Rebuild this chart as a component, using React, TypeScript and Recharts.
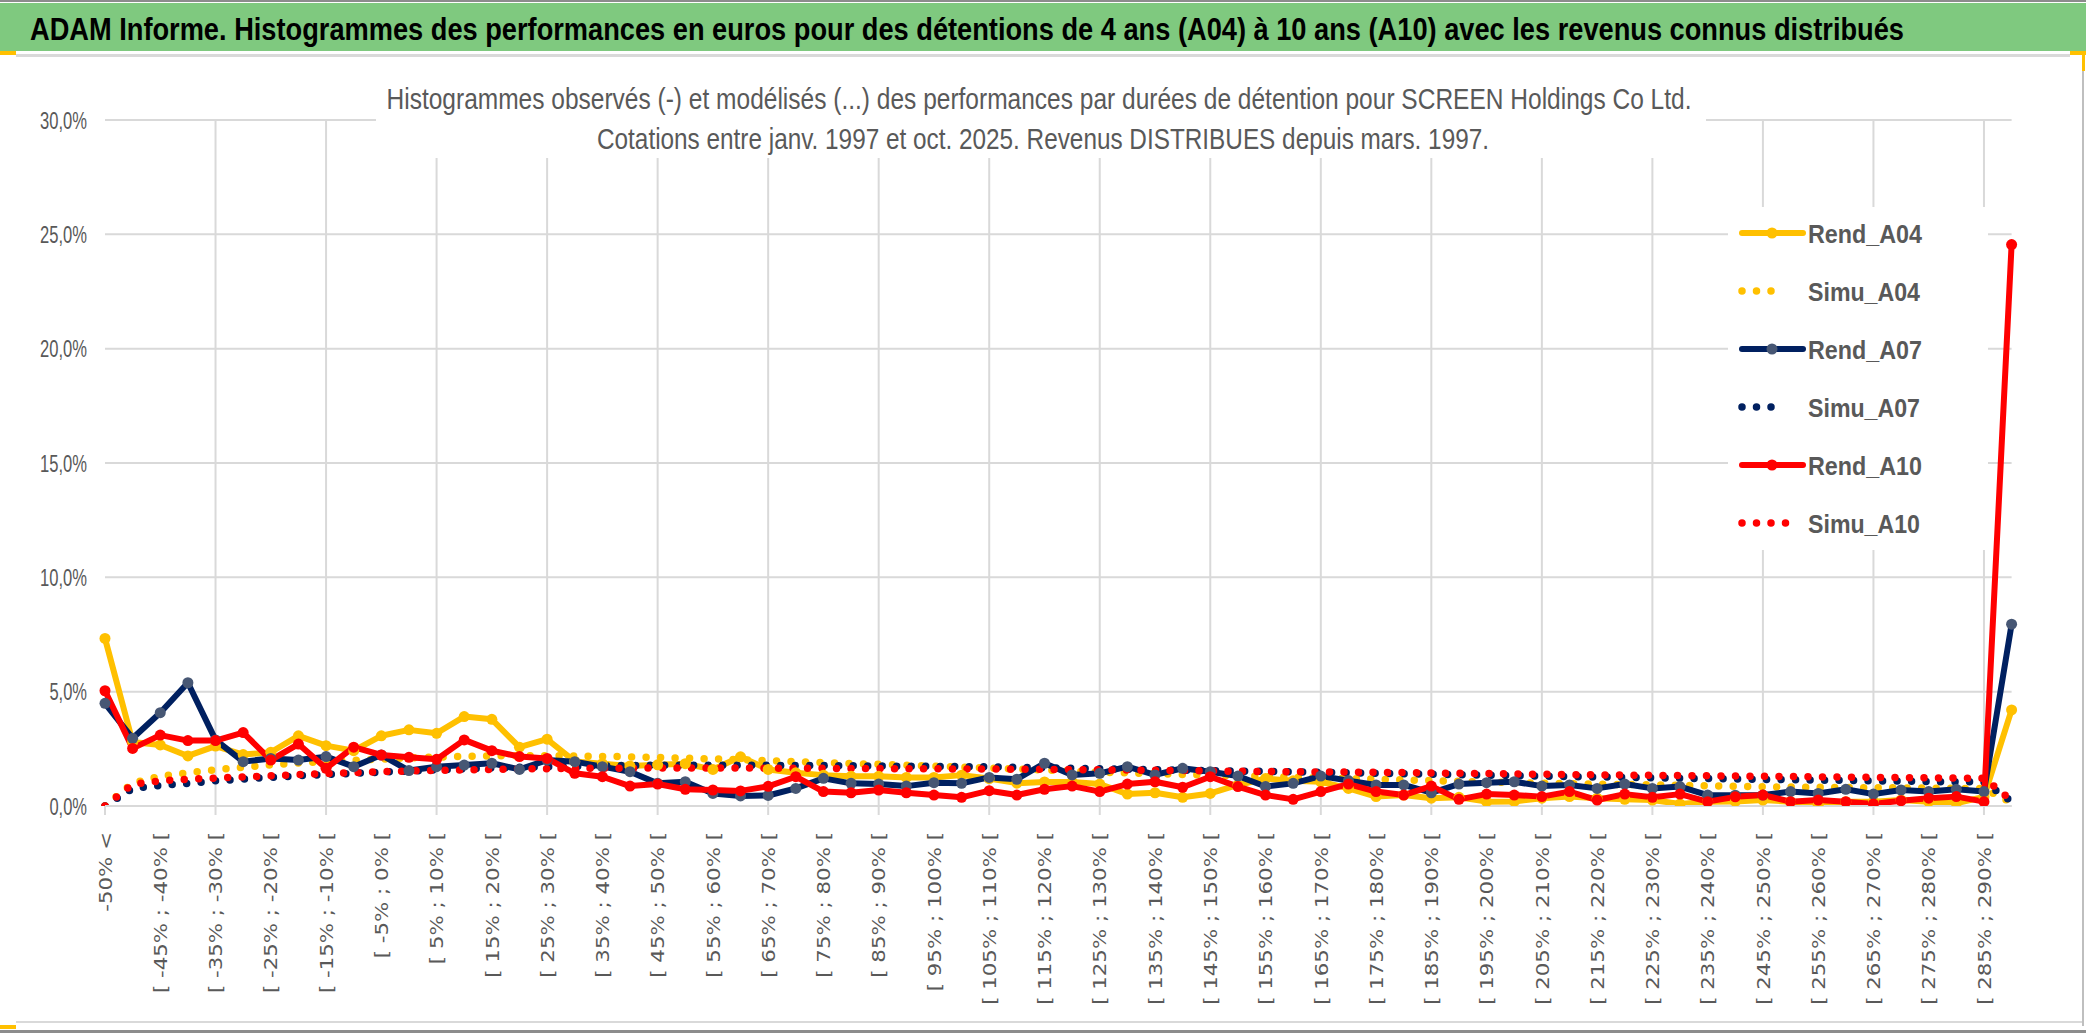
import React from 'react';
import { LineChart, Line, XAxis, YAxis, CartesianGrid } from 'recharts';

const categories = [
  '-50% <', '[ -50% ; -45% [', '[ -45% ; -40% [', '[ -40% ; -35% [', '[ -35% ; -30% [', '[ -30% ; -25% [',
  '[ -25% ; -20% [', '[ -20% ; -15% [', '[ -15% ; -10% [', '[ -10% ; -5% [', '[ -5% ; 0% [', '[ 0% ; 5% [',
  '[ 5% ; 10% [', '[ 10% ; 15% [', '[ 15% ; 20% [', '[ 20% ; 25% [', '[ 25% ; 30% [', '[ 30% ; 35% [',
  '[ 35% ; 40% [', '[ 40% ; 45% [', '[ 45% ; 50% [', '[ 50% ; 55% [', '[ 55% ; 60% [', '[ 60% ; 65% [',
  '[ 65% ; 70% [', '[ 70% ; 75% [', '[ 75% ; 80% [', '[ 80% ; 85% [', '[ 85% ; 90% [', '[ 90% ; 95% [',
  '[ 95% ; 100% [', '[ 100% ; 105% [', '[ 105% ; 110% [', '[ 110% ; 115% [', '[ 115% ; 120% [', '[ 120% ; 125% [',
  '[ 125% ; 130% [', '[ 130% ; 135% [', '[ 135% ; 140% [', '[ 140% ; 145% [', '[ 145% ; 150% [', '[ 150% ; 155% [',
  '[ 155% ; 160% [', '[ 160% ; 165% [', '[ 165% ; 170% [', '[ 170% ; 175% [', '[ 175% ; 180% [', '[ 180% ; 185% [',
  '[ 185% ; 190% [', '[ 190% ; 195% [', '[ 195% ; 200% [', '[ 200% ; 205% [', '[ 205% ; 210% [', '[ 210% ; 215% [',
  '[ 215% ; 220% [', '[ 220% ; 225% [', '[ 225% ; 230% [', '[ 230% ; 235% [', '[ 235% ; 240% [', '[ 240% ; 245% [',
  '[ 245% ; 250% [', '[ 250% ; 255% [', '[ 255% ; 260% [', '[ 260% ; 265% [', '[ 265% ; 270% [', '[ 270% ; 275% [',
  '[ 275% ; 280% [', '[ 280% ; 285% [', '[ 285% ; 290% [', '> 290%',
];

const rendA04 = [
  7.33, 2.8, 2.67, 2.19, 2.62, 2.25, 2.35, 3.07, 2.64, 2.42, 3.07, 3.33,
  3.18, 3.91, 3.79, 2.57, 2.92, 1.95, 1.85, 1.75, 1.8, 1.85, 1.6, 2.15,
  1.6, 1.45, 1.35, 1.3, 1.3, 1.25, 1.25, 1.35, 1.2, 1.0, 1.05, 1.05,
  0.96, 0.52, 0.58, 0.38, 0.55, 0.92, 1.2, 1.1, 1.06, 0.77, 0.41, 0.48,
  0.34, 0.38, 0.19, 0.2, 0.34, 0.41, 0.34, 0.29, 0.26, 0.09, 0.19, 0.2,
  0.26, 0.19, 0.04, 0.19, 0.19, 0.26, 0.19, 0.12, 0.4, 4.2,
];

const simuA04 = [
  0.0, 1.0, 1.3, 1.45, 1.58, 1.7, 1.8, 1.88, 1.95, 2.0, 2.05, 2.1,
  2.14, 2.17, 2.19, 2.2, 2.2, 2.19, 2.17, 2.15, 2.12, 2.09, 2.06, 2.02,
  1.98, 1.94, 1.9, 1.86, 1.82, 1.78, 1.74, 1.7, 1.66, 1.62, 1.58, 1.52,
  1.48, 1.45, 1.42, 1.38, 1.35, 1.32, 1.29, 1.26, 1.23, 1.2, 1.17, 1.14,
  1.11, 1.08, 1.05, 1.02, 1.0, 0.98, 0.96, 0.94, 0.92, 0.9, 0.88, 0.86,
  0.84, 0.83, 0.82, 0.81, 0.8, 0.79, 0.78, 0.77, 0.76, 0.15,
];

const rendA07 = [
  4.49, 2.96, 4.08, 5.39, 2.89, 1.94, 2.08, 2.01, 2.16, 1.72, 2.23, 1.55,
  1.72, 1.79, 1.87, 1.6, 2.01, 1.94, 1.72, 1.5, 0.99, 1.06, 0.55, 0.44,
  0.46, 0.77, 1.21, 0.99, 0.96, 0.87, 1.02, 0.99, 1.25, 1.17, 1.87, 1.36,
  1.43, 1.72, 1.36, 1.65, 1.5, 1.31, 0.85, 0.99, 1.31, 1.11, 0.92, 0.92,
  0.58, 0.96, 1.02, 1.06, 0.87, 0.92, 0.77, 0.96, 0.77, 0.85, 0.48, 0.47,
  0.48, 0.63, 0.55, 0.73, 0.52, 0.7, 0.63, 0.73, 0.63, 7.95,
];

const simuA07 = [
  0.0, 0.77, 0.9, 0.99, 1.1, 1.18, 1.25, 1.32, 1.38, 1.43, 1.48, 1.53,
  1.58, 1.62, 1.66, 1.69, 1.72, 1.74, 1.76, 1.77, 1.78, 1.78, 1.78, 1.78,
  1.78, 1.77, 1.77, 1.76, 1.75, 1.74, 1.73, 1.72, 1.71, 1.69, 1.67, 1.65,
  1.63, 1.61, 1.59, 1.57, 1.55, 1.53, 1.51, 1.49, 1.47, 1.45, 1.43, 1.41,
  1.39, 1.37, 1.35, 1.33, 1.31, 1.29, 1.27, 1.25, 1.23, 1.21, 1.2, 1.18,
  1.16, 1.15, 1.13, 1.12, 1.1, 1.09, 1.07, 1.06, 1.05, 0.2,
];

const rendA10 = [
  5.04, 2.52, 3.1, 2.86, 2.86, 3.21, 2.01, 2.71, 1.65, 2.57, 2.23, 2.13,
  2.04, 2.89, 2.42, 2.16, 2.08, 1.43, 1.28, 0.87, 0.96, 0.73, 0.7, 0.66,
  0.86, 1.28, 0.63, 0.58, 0.7, 0.58, 0.48, 0.38, 0.67, 0.48, 0.73, 0.87,
  0.63, 0.96, 1.06, 0.82, 1.28, 0.85, 0.48, 0.29, 0.63, 0.96, 0.63, 0.48,
  0.87, 0.29, 0.52, 0.48, 0.41, 0.63, 0.26, 0.52, 0.38, 0.52, 0.19, 0.4,
  0.48, 0.19, 0.26, 0.19, 0.09, 0.23, 0.34, 0.41, 0.19, 24.55,
];

const simuA10 = [
  0.0, 0.95, 1.1, 1.17, 1.22, 1.27, 1.32, 1.37, 1.42, 1.46, 1.5, 1.53,
  1.56, 1.58, 1.6, 1.62, 1.63, 1.64, 1.65, 1.65, 1.66, 1.66, 1.66, 1.66,
  1.65, 1.65, 1.65, 1.64, 1.64, 1.63, 1.63, 1.62, 1.62, 1.61, 1.6, 1.59,
  1.58, 1.57, 1.56, 1.55, 1.53, 1.52, 1.51, 1.5, 1.49, 1.48, 1.47, 1.46,
  1.44, 1.43, 1.42, 1.4, 1.39, 1.37, 1.36, 1.35, 1.34, 1.33, 1.32, 1.31,
  1.3, 1.29, 1.27, 1.26, 1.25, 1.24, 1.23, 1.22, 1.21, 0.25,
];

const yTicks = [0, 5, 10, 15, 20, 25, 30];
const yTickLabels = ['0,0%', '5,0%', '10,0%', '15,0%', '20,0%', '25,0%', '30,0%'];

const seriesNames = ['Rend_A04', 'Simu_A04', 'Rend_A07', 'Simu_A07', 'Rend_A10', 'Simu_A10'];

const TITLE = 'ADAM Informe. Histogrammes des performances en euros pour des détentions de 4 ans (A04) à 10 ans (A10) avec les revenus connus distribués';
const SUB1 = 'Histogrammes observés (-) et modélisés (...) des performances par durées de détention pour SCREEN Holdings Co Ltd.';
const SUB2 = 'Cotations entre janv. 1997 et oct. 2025. Revenus DISTRIBUES depuis mars. 1997.';

const data = categories.map((cat, i) => ({
  cat,
  rendA04: rendA04[i],
  simuA04: simuA04[i],
  rendA07: rendA07[i],
  simuA07: simuA07[i],
  rendA10: rendA10[i],
  simuA10: simuA10[i],
}));

const W = 2086;
const H = 1033;
const MARGIN = { top: 120, right: 74.4, bottom: 0, left: 0 };
const YAXIS_W = 105;
const XAXIS_H = 227;
const PLOT_BOTTOM = H - MARGIN.bottom - XAXIS_H;
const PLOT_LEFT = MARGIN.left + YAXIS_W;
const PLOT_W = W - MARGIN.right - PLOT_LEFT;

const YELLOW = '#FFC000';
const NAVY = '#002060';
const NAVY_MARK = '#475774';
const RED = '#FF0000';
const GRID = '#d9d9d9';
const TXT = '#595959';
const NARROW = "'Liberation Sans Narrow', 'Liberation Sans', Arial, sans-serif";

// vertical gridlines every 4 categories (category axis has points on the ticks)
const gridIdx = categories.map((_, i) => i).filter((i) => i % 4 === 0 && i > 0);
const verticalPts = gridIdx.map((i) => PLOT_LEFT + (i * PLOT_W) / (categories.length - 1));

const XTick = (props: any) => {
  const { x, payload } = props;
  const i = props.index ?? payload?.index ?? 0;
  return (
    <g>
      {i % 4 === 0 && (
        <line x1={x} x2={x} y1={PLOT_BOTTOM} y2={PLOT_BOTTOM + 9} stroke={GRID} strokeWidth={2} />
      )}
      {i % 2 === 0 && (
        <text
          transform={`translate(${x + 6.7},${PLOT_BOTTOM + 26}) rotate(-90) scale(1.16,1)`}
          textAnchor="end"
          fontSize={18.4}
          fill={TXT}
          fontFamily="'DejaVu Sans', Verdana, sans-serif"
        >
          {payload.value}
        </text>
      )}
    </g>
  );
};

const YTick = (props: any) => {
  const { y, payload } = props;
  const idx = yTicks.indexOf(payload.value);
  const label = yTickLabels[idx] ?? '';
  return (
    <text
      x={87}
      y={y + 8.5}
      textAnchor="end"
      fontSize={24}
      fill={TXT}
      fontFamily={NARROW}
      textLength={label.length * 9.4}
      lengthAdjust="spacingAndGlyphs"
    >
      {label}
    </text>
  );
};

const legendRows = [
  { name: seriesNames[0], color: YELLOW, mark: YELLOW, dotted: false, n: 4 },
  { name: seriesNames[1], color: YELLOW, mark: YELLOW, dotted: true, n: 4 },
  { name: seriesNames[2], color: NAVY, mark: NAVY_MARK, dotted: false, n: 4 },
  { name: seriesNames[3], color: NAVY, mark: NAVY, dotted: true, n: 4 },
  { name: seriesNames[4], color: RED, mark: RED, dotted: false, n: 4 },
  { name: seriesNames[5], color: RED, mark: RED, dotted: true, n: 5 },
];

export default function App() {
  return (
    <div
      style={{
        position: 'absolute',
        left: 0,
        top: 0,
        width: W,
        height: H,
        overflow: 'hidden',
        background: '#ffffff',
      }}
    >
      <div style={{ position: 'absolute', left: 0, top: 0 }}>
        <LineChart width={W} height={H} data={data} margin={MARGIN}>
          <CartesianGrid
            stroke={GRID}
            strokeWidth={2}
            horizontal={true}
            vertical={true}
            verticalPoints={verticalPts}
          />
          <XAxis
            dataKey="cat"
            type="category"
            interval={0}
            height={XAXIS_H}
            axisLine={{ stroke: GRID, strokeWidth: 2 }}
            tickLine={false}
            tick={(p: any) => <XTick {...p} />}
            padding={{ left: 0, right: 0 }}
          />
          <YAxis
            type="number"
            domain={[0, 30]}
            ticks={yTicks}
            width={YAXIS_W}
            axisLine={false}
            tickLine={false}
            tick={(p: any) => <YTick {...p} />}
            allowDataOverflow={true}
          />
          <Line
            dataKey="rendA04"
            stroke={YELLOW}
            strokeWidth={6}
            strokeLinejoin="round"
            dot={{ r: 5.5, fill: YELLOW, stroke: 'none' }}
            activeDot={false}
            isAnimationActive={false}
          />
          <Line
            dataKey="simuA04"
            stroke={YELLOW}
            strokeWidth={7.5}
            strokeDasharray="0 14.5"
            strokeLinecap="round"
            dot={false}
            activeDot={false}
            isAnimationActive={false}
          />
          <Line
            dataKey="rendA07"
            stroke={NAVY}
            strokeWidth={6}
            strokeLinejoin="round"
            dot={{ r: 5.5, fill: NAVY_MARK, stroke: 'none' }}
            activeDot={false}
            isAnimationActive={false}
          />
          <Line
            dataKey="simuA07"
            stroke={NAVY}
            strokeWidth={7.5}
            strokeDasharray="0 14.5"
            strokeLinecap="round"
            dot={false}
            activeDot={false}
            isAnimationActive={false}
          />
          <Line
            dataKey="rendA10"
            stroke={RED}
            strokeWidth={6}
            strokeLinejoin="round"
            dot={{ r: 5.5, fill: RED, stroke: 'none' }}
            activeDot={false}
            isAnimationActive={false}
          />
          <Line
            dataKey="simuA10"
            stroke={RED}
            strokeWidth={7.5}
            strokeDasharray="0 14.5"
            strokeLinecap="round"
            dot={false}
            activeDot={false}
            isAnimationActive={false}
          />
        </LineChart>
      </div>
      <svg
        width={W}
        height={H}
        style={{ position: 'absolute', left: 0, top: 0, pointerEvents: 'none' }}
      >
        {/* frame */}
        <rect x={0} y={0} width={W} height={2} fill="#8c8c8c" />
        <rect x={0} y={3} width={W} height={48} fill="#7fc97f" />
        <text
          transform="translate(30,40) scale(1,1.2)"
          x={0}
          y={0}
          fontSize={26}
          fontWeight="bold"
          fill="#000000"
          fontFamily={NARROW}
          textLength={1874}
          lengthAdjust="spacingAndGlyphs"
        >
          {TITLE}
        </text>
        <rect x={16} y={54} width={W - 32} height={3} fill="#d9d9d9" />
        <rect x={0} y={51} width={16} height={4} fill={YELLOW} />
        <rect x={W - 16} y={51} width={16} height={4} fill={YELLOW} />
        <rect x={W - 4} y={51} width={3} height={20} fill={YELLOW} />
        <rect x={W - 4} y={71} width={2} height={955} fill="#bfbfbf" />
        <rect x={16} y={1021} width={W - 20} height={2} fill="#d9d9d9" />
        <rect x={0} y={1025} width={16} height={4} fill={YELLOW} />
        <rect x={0} y={1030} width={W} height={3} fill="#8c8c8c" />

        {/* subtitle */}
        <rect x={376} y={84} width={1330} height={74} fill="#ffffff" />
        <text
          x={1039}
          y={109}
          textAnchor="middle"
          fontSize={29}
          fill={TXT}
          fontFamily={NARROW}
          textLength={1305}
          lengthAdjust="spacingAndGlyphs"
        >
          {SUB1}
        </text>
        <text
          x={1043}
          y={149}
          textAnchor="middle"
          fontSize={29}
          fill={TXT}
          fontFamily={NARROW}
          textLength={892}
          lengthAdjust="spacingAndGlyphs"
        >
          {SUB2}
        </text>

        {/* legend */}
        <rect x={1728} y={207} width={260} height={343} fill="#ffffff" />
        {legendRows.map((r, k) => {
          const cy = 233 + k * 58;
          return (
            <g key={r.name}>
              {r.dotted ? (
                <line
                  x1={1742}
                  x2={1742 + (r.n - 1) * 14.5}
                  y1={cy}
                  y2={cy}
                  stroke={r.color}
                  strokeWidth={7.5}
                  strokeDasharray="0 14.5"
                  strokeLinecap="round"
                />
              ) : (
                <g>
                  <line x1={1742} x2={1803} y1={cy} y2={cy} stroke={r.color} strokeWidth={6} strokeLinecap="round" />
                  <circle cx={1772} cy={cy} r={5.5} fill={r.mark} />
                </g>
              )}
              <text
                x={1808}
                y={cy + 10}
                fontSize={26}
                fontWeight="bold"
                fill={TXT}
                fontFamily={NARROW}
                textLength={r.name.startsWith('Rend') ? 114 : 112}
                lengthAdjust="spacingAndGlyphs"
              >
                {r.name}
              </text>
            </g>
          );
        })}
      </svg>
    </div>
  );
}
